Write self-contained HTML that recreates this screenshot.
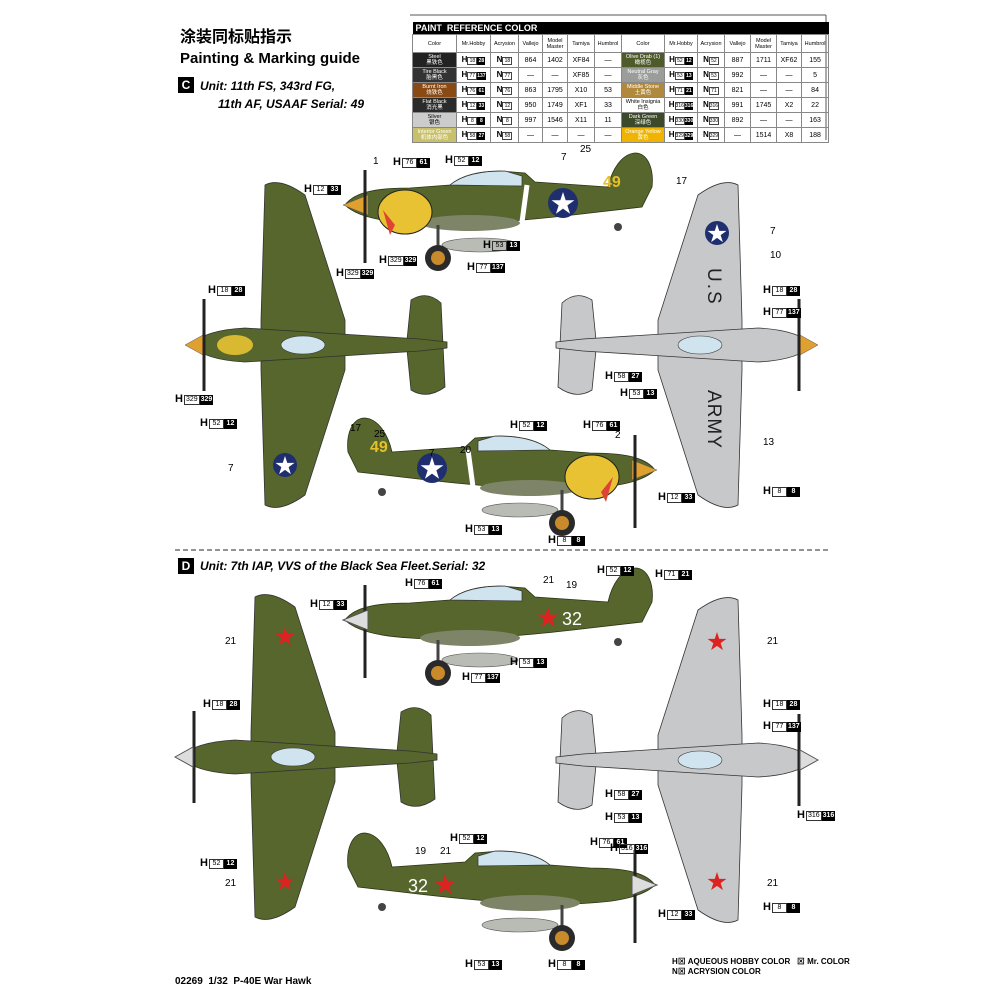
<!DOCTYPE html>
<html><head><meta charset="utf-8">
<style>
body{margin:0;background:#fff;}
#p{position:relative;width:1000px;height:1000px;overflow:hidden;background:#fff;font-family:"Liberation Sans",sans-serif;}
svg{position:absolute;left:0;top:0}
.c{position:absolute;font:bold 11px "Liberation Sans",sans-serif;white-space:nowrap;line-height:11px}
.c i{display:inline-block;border:1px solid #333;font-style:normal;font-weight:normal;font-size:7px;padding:0 1px;min-width:11px;text-align:center;line-height:8px;margin-left:1px;vertical-align:1px}
.c b{display:inline-block;background:#000;color:#fff;font-size:7px;padding:0 1px;min-width:11px;text-align:center;line-height:10px;vertical-align:1px}
.n{position:absolute;font:10px "Liberation Sans",sans-serif}
table{position:absolute;left:412px;top:22px;width:414px;border-collapse:collapse;font:6px "Liberation Sans",sans-serif;table-layout:fixed}
td{border:1px solid #888;text-align:center;height:14px;padding:0;font-size:7px}
tr.hd td{height:17px;font-size:5.5px}
td.t{background:#000;color:#fff;text-align:left;font:bold 9px "Liberation Sans",sans-serif;height:12px;padding-left:3px;border:none}
td.cl{font-size:5.5px;color:#fff;line-height:6px}
.hh{font-weight:bold;font-size:8px;white-space:nowrap}
.hh i{display:inline-block;border:1px solid #444;font-style:normal;font-weight:normal;font-size:5px;min-width:8px;line-height:6px}
.hh b{display:inline-block;background:#000;color:#fff;font-size:5px;min-width:8px;line-height:8px}
</style></head><body><div id="p">
<svg width="1000" height="1000" viewBox="0 0 1000 1000">
<defs>
<g id="side">
<path d="M5,50 C15,36 40,33 70,33 L110,30 C122,20 140,16 160,16 L185,18 L195,27 L268,32 C272,14 282,-1 295,-2 C308,-2 314,14 312,32 L302,52 L250,58 C200,64 120,72 70,68 C35,66 15,60 5,50 Z" fill="#56662d" stroke="#2b3316" stroke-width="0.8"/>
<ellipse cx="130" cy="68" rx="50" ry="8" fill="#7d8468"/>
<ellipse cx="140" cy="90" rx="38" ry="7" fill="#b9bcb4" stroke="#555" stroke-width="0.6"/>
<line x1="98" y1="70" x2="98" y2="98" stroke="#444" stroke-width="3"/>
<circle cx="98" cy="103" r="13" fill="#2a2a2a"/><circle cx="98" cy="103" r="7" fill="#c88a2a"/>
<circle cx="278" cy="72" r="4" fill="#444"/>
<path d="M110,30 C122,20 140,16 165,16 L182,21 L182,31 Z" fill="#cfe4ee" stroke="#333" stroke-width="0.7"/>
<path d="M3,50 L28,40 L28,60 Z" fill="#e0a030" stroke="#555" stroke-width="0.5"/>
<line x1="25" y1="15" x2="25" y2="108" stroke="#222" stroke-width="3"/>
</g>
<g id="top">
<path d="M80,-160 Q95,-168 120,-150 L160,-25 L160,25 L120,150 Q95,168 80,160 L76,25 L76,-25 Z" fill="currentColor" stroke="#333" stroke-width="0.8"/>
<path d="M222,-5 L226,-45 Q242,-55 256,-42 L260,42 Q242,55 226,45 L222,5 Z" fill="currentColor" stroke="#333" stroke-width="0.8"/>
<path d="M5,0 Q20,-15 60,-17 L235,-6 L262,-3 L262,3 L235,6 L60,17 Q20,15 5,0 Z" fill="currentColor" stroke="#333" stroke-width="0.8"/>
<ellipse cx="118" cy="0" rx="22" ry="9" fill="#cfe4ee" stroke="#333" stroke-width="0.6"/>
<path d="M0,0 L18,-10 L18,10 Z" fill="#e0a030" stroke="#555" stroke-width="0.5"/>
<line x1="19" y1="-46" x2="19" y2="46" stroke="#222" stroke-width="3"/>
</g>
<g id="star"><polygon points="0,-1 0.224,-0.309 0.951,-0.309 0.363,0.118 0.588,0.809 0,0.382 -0.588,0.809 -0.363,0.118 -0.951,-0.309 -0.224,-0.309"/></g>
</defs>
<line x1="410" y1="15" x2="826" y2="15" stroke="#555" stroke-width="1"/>
<line x1="826" y1="15" x2="826" y2="140" stroke="#555" stroke-width="1"/>
<line x1="175" y1="550" x2="830" y2="550" stroke="#555" stroke-width="1.2" stroke-dasharray="5,3"/>
<!-- C -->
<use href="#side" transform="translate(340,155)"/>
<ellipse cx="405" cy="212" rx="27" ry="22" fill="#e9c233" stroke="#222"/>
<path d="M383,210 l12,15 l-5,10 z" fill="#d43" />
<line x1="527" y1="185" x2="522" y2="222" stroke="#fff" stroke-width="5"/>
<text x="603" y="187" font-size="16" font-weight="bold" fill="#e6c02b" font-family="Liberation Sans">49</text>
<circle cx="563" cy="203" r="15" fill="#1f2e6e"/><use href="#star" transform="translate(563,204) scale(12)" fill="#fff"/>
<use href="#top" transform="translate(185,345)" style="color:#56662d"/>
<ellipse cx="235" cy="345" rx="18" ry="10" fill="#e9c233" opacity="0.9"/>
<circle cx="285" cy="465" r="12" fill="#1f2e6e"/><use href="#star" transform="translate(285,466) scale(10)" fill="#fff"/>
<use href="#top" transform="translate(818,345) scale(-1,1)" style="color:#c7c8c9"/>
<circle cx="717" cy="233" r="12" fill="#1f2e6e"/><use href="#star" transform="translate(717,234) scale(10)" fill="#fff"/>
<text x="708" y="268" font-size="19" font-family="Liberation Sans" fill="#222" transform="rotate(90 708 268)" letter-spacing="2">U.S</text>
<text x="708" y="390" font-size="19" font-family="Liberation Sans" fill="#222" transform="rotate(90 708 390)" letter-spacing="1">ARMY</text>
<use href="#side" transform="translate(660,420) scale(-1,1)"/>
<ellipse cx="592" cy="477" rx="27" ry="22" fill="#e9c233" stroke="#222"/>
<path d="M613,477 l-12,15 l5,10 z" fill="#d43" />
<line x1="468" y1="450" x2="473" y2="487" stroke="#fff" stroke-width="5"/>
<text x="370" y="452" font-size="16" font-weight="bold" fill="#e6c02b" font-family="Liberation Sans">49</text>
<circle cx="432" cy="468" r="15" fill="#1f2e6e"/><use href="#star" transform="translate(432,469) scale(12)" fill="#fff"/>
<!-- D -->
<use href="#side" transform="translate(340,570)"/>
<path d="M343,620 L368,610 L368,630 Z" fill="#ddd" stroke="#555"/>
<use href="#star" transform="translate(548,618) scale(11)" fill="#d22"/>
<text x="562" y="625" font-size="18" fill="#fff" font-family="Liberation Sans">32</text>
<use href="#top" transform="translate(175,757)" style="color:#56662d"/>
<path d="M175,757 L193,747 L193,767 Z" fill="#ddd" stroke="#555"/>
<use href="#star" transform="translate(285,637) scale(10)" fill="#d22"/>
<use href="#star" transform="translate(285,882) scale(10)" fill="#d22"/>
<use href="#top" transform="translate(818,760) scale(-1,1)" style="color:#c7c8c9"/>
<path d="M818,760 L800,750 L800,770 Z" fill="#ddd" stroke="#555"/>
<use href="#star" transform="translate(717,642) scale(10)" fill="#d22"/>
<use href="#star" transform="translate(717,882) scale(10)" fill="#d22"/>
<use href="#side" transform="translate(660,835) scale(-1,1)"/>
<path d="M657,885 L632,875 L632,895 Z" fill="#ddd" stroke="#555"/>
<use href="#star" transform="translate(445,885) scale(11)" fill="#d22"/>
<text x="408" y="892" font-size="18" fill="#fff" font-family="Liberation Sans">32</text>
</svg>

<div style="position:absolute;left:180px;top:28px;font:bold 16px 'Liberation Sans','Noto Sans CJK SC',sans-serif;line-height:20px">涂装同标贴指示</div>
<div style="position:absolute;left:180px;top:50px;font:bold 15px 'Liberation Sans',sans-serif">Painting &amp; Marking guide</div>
<div style="position:absolute;left:178px;top:77px;width:16px;height:16px;background:#000;color:#fff;font:bold 12px 'Liberation Sans';text-align:center;line-height:16px">C</div>
<div style="position:absolute;left:200px;top:77px;font:italic bold 12px 'Liberation Sans';line-height:18px">Unit: 11th FS, 343rd FG,<br><span style="margin-left:18px">11th AF, USAAF Serial: 49</span></div>
<div style="position:absolute;left:178px;top:558px;width:16px;height:16px;background:#000;color:#fff;font:bold 12px 'Liberation Sans';text-align:center;line-height:16px">D</div>
<div style="position:absolute;left:200px;top:559px;font:italic bold 12px 'Liberation Sans'">Unit: 7th IAP, VVS of the Black Sea Fleet.Serial: 32</div>
<div style="position:absolute;left:175px;top:976px;font:bold 10px 'Liberation Sans'">02269&nbsp;&nbsp;1/32&nbsp;&nbsp;P-40E War Hawk</div>
<div style="position:absolute;left:672px;top:957px;font:bold 8px 'Liberation Sans','Noto Sans CJK SC',sans-serif;line-height:10px">H⊠ AQUEOUS HOBBY COLOR &nbsp;&nbsp;⊠ Mr. COLOR<br>N⊠ ACRYSION COLOR</div>

<table>
<colgroup><col style="width:44px"><col style="width:34px"><col style="width:28px"><col style="width:24px"><col style="width:25px"><col style="width:27px"><col style="width:27px"><col style="width:43px"><col style="width:33px"><col style="width:27px"><col style="width:26px"><col style="width:26px"><col style="width:25px"><col style="width:27px"></colgroup>
<tr><td class="t" colspan="14">PAINT&nbsp; REFERENCE COLOR</td></tr>
<tr class="hd"><td>Color</td><td>Mr.Hobby</td><td>Acrysion</td><td>Vallejo</td><td>Model Master</td><td>Tamiya</td><td>Humbrol</td><td>Color</td><td>Mr.Hobby</td><td>Acrysion</td><td>Vallejo</td><td>Model Master</td><td>Tamiya</td><td>Humbrol</td></tr>
<tr><td class="cl" style="background:#222">Steel<br>黑铁色</td><td class="hh">H<i>18</i><b>28</b></td><td class="hh">N<i>18</i></td><td>864</td><td>1402</td><td>XF84</td><td>—</td><td class="cl" style="background:#4e5a2a">Olive Drab (1)<br>橄榄色</td><td class="hh">H<i>52</i><b>12</b></td><td class="hh">N<i>52</i></td><td>887</td><td>1711</td><td>XF62</td><td>155</td></tr>
<tr><td class="cl" style="background:#333">Tire Black<br>胎黑色</td><td class="hh">H<i>77</i><b>137</b></td><td class="hh">N<i>77</i></td><td>—</td><td>—</td><td>XF85</td><td>—</td><td class="cl" style="background:#9a9d9a">Neutral Gray<br>灰色</td><td class="hh">H<i>53</i><b>13</b></td><td class="hh">N<i>53</i></td><td>992</td><td>—</td><td>—</td><td>5</td></tr>
<tr><td class="cl" style="background:#8a4a14">Burnt Iron<br>烧铁色</td><td class="hh">H<i>76</i><b>61</b></td><td class="hh">N<i>76</i></td><td>863</td><td>1795</td><td>X10</td><td>53</td><td class="cl" style="background:#b0893c">Middle Stone<br>土黄色</td><td class="hh">H<i>71</i><b>21</b></td><td class="hh">N<i>71</i></td><td>821</td><td>—</td><td>—</td><td>84</td></tr>
<tr><td class="cl" style="background:#2b2b2b">Flat Black<br>消光黑</td><td class="hh">H<i>12</i><b>33</b></td><td class="hh">N<i>12</i></td><td>950</td><td>1749</td><td>XF1</td><td>33</td><td class="cl" style="background:#fff;color:#000">White Insignia<br>白色</td><td class="hh">H<i>316</i><b>316</b></td><td class="hh">N<i>316</i></td><td>991</td><td>1745</td><td>X2</td><td>22</td></tr>
<tr><td class="cl" style="background:#ccc;color:#000">Silver<br>银色</td><td class="hh">H<i>8</i><b>8</b></td><td class="hh">N<i>8</i></td><td>997</td><td>1546</td><td>X11</td><td>11</td><td class="cl" style="background:#3d4a2a">Dark Green<br>深绿色</td><td class="hh">H<i>330</i><b>330</b></td><td class="hh">N<i>330</i></td><td>892</td><td>—</td><td>—</td><td>163</td></tr>
<tr><td class="cl" style="background:#c9c06a">Interior Green<br>机体内部色</td><td class="hh">H<i>58</i><b>27</b></td><td class="hh">N<i>58</i></td><td>—</td><td>—</td><td>—</td><td>—</td><td class="cl" style="background:#f0b400">Orange Yellow<br>黄色</td><td class="hh">H<i>329</i><b>329</b></td><td class="hh">N<i>329</i></td><td>—</td><td>1514</td><td>X8</td><td>188</td></tr>
</table>

<!-- C labels -->
<div class="n" style="left:373px;top:156px">1</div>
<div class="c" style="left:393px;top:157px">H<i>76</i><b>61</b></div>
<div class="c" style="left:445px;top:155px">H<i>52</i><b>12</b></div>
<div class="n" style="left:561px;top:152px">7</div>
<div class="n" style="left:580px;top:144px">25</div>
<div class="n" style="left:676px;top:176px">17</div>
<div class="c" style="left:304px;top:184px">H<i>12</i><b>33</b></div>
<div class="c" style="left:483px;top:240px">H<i>53</i><b>13</b></div>
<div class="c" style="left:467px;top:262px">H<i>77</i><b>137</b></div>
<div class="c" style="left:379px;top:255px">H<i>329</i><b>329</b></div>
<div class="c" style="left:336px;top:268px">H<i>329</i><b>329</b></div>
<div class="c" style="left:208px;top:285px">H<i>18</i><b>28</b></div>
<div class="c" style="left:175px;top:394px">H<i>329</i><b>329</b></div>
<div class="c" style="left:200px;top:418px">H<i>52</i><b>12</b></div>
<div class="n" style="left:228px;top:463px">7</div>
<div class="n" style="left:770px;top:226px">7</div>
<div class="n" style="left:770px;top:250px">10</div>
<div class="c" style="left:763px;top:285px">H<i>18</i><b>28</b></div>
<div class="c" style="left:763px;top:307px">H<i>77</i><b>137</b></div>
<div class="c" style="left:605px;top:371px">H<i>58</i><b>27</b></div>
<div class="c" style="left:620px;top:388px">H<i>53</i><b>13</b></div>
<div class="n" style="left:763px;top:437px">13</div>
<div class="c" style="left:763px;top:486px">H<i>8</i><b>8</b></div>
<div class="n" style="left:350px;top:423px">17</div>
<div class="n" style="left:374px;top:429px">25</div>
<div class="n" style="left:429px;top:448px">7</div>
<div class="n" style="left:460px;top:445px">20</div>
<div class="c" style="left:510px;top:420px">H<i>52</i><b>12</b></div>
<div class="c" style="left:583px;top:420px">H<i>76</i><b>61</b></div>
<div class="n" style="left:615px;top:430px">2</div>
<div class="c" style="left:658px;top:492px">H<i>12</i><b>33</b></div>
<div class="c" style="left:465px;top:524px">H<i>53</i><b>13</b></div>
<div class="c" style="left:548px;top:535px">H<i>8</i><b>8</b></div>
<!-- D labels -->
<div class="c" style="left:405px;top:578px">H<i>76</i><b>61</b></div>
<div class="c" style="left:310px;top:599px">H<i>12</i><b>33</b></div>
<div class="n" style="left:543px;top:575px">21</div>
<div class="n" style="left:566px;top:580px">19</div>
<div class="c" style="left:597px;top:565px">H<i>52</i><b>12</b></div>
<div class="c" style="left:655px;top:569px">H<i>71</i><b>21</b></div>
<div class="n" style="left:225px;top:636px">21</div>
<div class="c" style="left:510px;top:657px">H<i>53</i><b>13</b></div>
<div class="c" style="left:462px;top:672px">H<i>77</i><b>137</b></div>
<div class="c" style="left:203px;top:699px">H<i>18</i><b>28</b></div>
<div class="n" style="left:767px;top:636px">21</div>
<div class="c" style="left:763px;top:699px">H<i>18</i><b>28</b></div>
<div class="c" style="left:763px;top:721px">H<i>77</i><b>137</b></div>
<div class="c" style="left:605px;top:789px">H<i>58</i><b>27</b></div>
<div class="c" style="left:605px;top:812px">H<i>53</i><b>13</b></div>
<div class="c" style="left:797px;top:810px">H<i>316</i><b>316</b></div>
<div class="c" style="left:450px;top:833px">H<i>52</i><b>12</b></div>
<div class="c" style="left:590px;top:837px">H<i>76</i><b>61</b></div>
<div class="c" style="left:610px;top:843px">H<i>316</i><b>316</b></div>
<div class="n" style="left:415px;top:846px">19</div>
<div class="n" style="left:440px;top:846px">21</div>
<div class="c" style="left:200px;top:858px">H<i>52</i><b>12</b></div>
<div class="n" style="left:225px;top:878px">21</div>
<div class="n" style="left:767px;top:878px">21</div>
<div class="c" style="left:763px;top:902px">H<i>8</i><b>8</b></div>
<div class="c" style="left:658px;top:909px">H<i>12</i><b>33</b></div>
<div class="c" style="left:465px;top:959px">H<i>53</i><b>13</b></div>
<div class="c" style="left:548px;top:959px">H<i>8</i><b>8</b></div>
</div></body></html>
